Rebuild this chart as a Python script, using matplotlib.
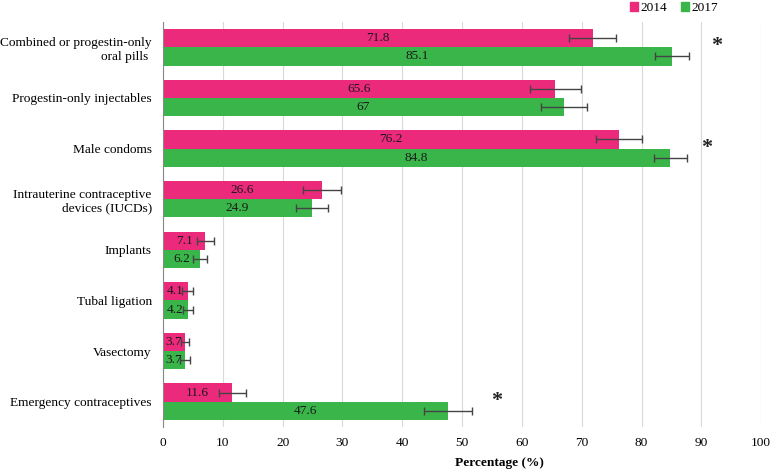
import numpy as np
import matplotlib.pyplot as plt
from matplotlib.patches import Patch

plt.rcParams['font.family'] = ['Liberation Serif', 'DejaVu Serif']

CATEGORIES = [
    'Combined or progestin-only\noral pills ',
    'Progestin-only injectables',
    'Male condoms',
    'Intrauterine contraceptive\ndevices (IUCDs)',
    'Implants',
    'Tubal ligation',
    'Vasectomy',
    'Emergency contraceptives',
]
VALUES_2014 = [71.8, 65.6, 76.2, 26.6, 7.1, 4.1, 3.7, 11.6]
VALUES_2017 = [85.1, 67, 84.8, 24.9, 6.2, 4.2, 3.7, 47.6]
ERR_2014 = [3.9, 4.2, 3.8, 3.2, 1.4, 1.0, 0.7, 2.3]
ERR_2017 = [2.8, 3.8, 2.8, 2.7, 1.2, 0.9, 0.8, 4.0]
# asterisks: (category index, x position in %)
STARS = [(0, 92.5), (2, 90.8), (7, 55.8)]

PINK = '#EC2A7B'
GREEN = '#39B54A'
BAR_H = 0.36
FS = 9.6


def main():
    fig = plt.figure(figsize=(7.75, 4.74), dpi=100)
    ax = fig.add_axes([0.2103, 0.0992, 0.772, 0.8544])

    y = np.arange(len(CATEGORIES))
    err_kw = dict(ecolor='#444444', elinewidth=1.0, capsize=3, capthick=1.0)
    ax.barh(y - BAR_H / 2, VALUES_2014, height=BAR_H, color=PINK,
            xerr=ERR_2014, error_kw=err_kw, zorder=2)
    ax.barh(y + BAR_H / 2, VALUES_2017, height=BAR_H, color=GREEN,
            xerr=ERR_2017, error_kw=err_kw, zorder=2)

    for i in range(len(CATEGORIES)):
        ax.text(VALUES_2014[i] / 2, y[i] - BAR_H / 2, f'{VALUES_2014[i]:g}',
                ha='center', va='center', fontsize=FS, color='#1a1a1a', zorder=4)
        ax.text(VALUES_2017[i] / 2, y[i] + BAR_H / 2, f'{VALUES_2017[i]:g}',
                ha='center', va='center', fontsize=FS, color='#1a1a1a', zorder=4)

    for idx, xs in STARS:
        ax.text(xs, idx - 0.02, '*', ha='center', va='center',
                fontsize=16, fontweight='bold', color='#222222')

    ax.set_xlim(0, 100)
    ax.set_ylim(len(CATEGORIES) - 0.5, -0.5)
    ax.set_xticks(np.arange(0, 101, 10))
    ax.set_yticks(y)
    ax.set_yticklabels(CATEGORIES, fontsize=FS)
    ax.tick_params(axis='both', length=0, labelsize=FS)
    ax.tick_params(axis='x', pad=7)
    ax.tick_params(axis='y', pad=8)

    ax.grid(axis='x', color='#d9d9d9', linewidth=0.8, zorder=0)
    ax.set_axisbelow(True)
    for s in ['top', 'right', 'bottom']:
        ax.spines[s].set_visible(False)
    ax.spines['left'].set_color('#888888')
    ax.spines['left'].set_zorder(5)

    fig.text(499 / 775, 1 - 463 / 474, 'Percentage (%)', ha='center', va='center',
             fontsize=FS, fontweight='bold')

    handles = [Patch(color=PINK, label='2014'), Patch(color=GREEN, label='2017')]
    fig.legend(handles=handles, loc='center', bbox_to_anchor=(674 / 775, 1 - 8 / 474),
               ncol=2, frameon=False, fontsize=FS, handlelength=0.6, handleheight=0.6,
               handletextpad=0.2, columnspacing=1.0, borderpad=0)

    fig.savefig('out.png', dpi=100)


if __name__ == '__main__':
    main()
